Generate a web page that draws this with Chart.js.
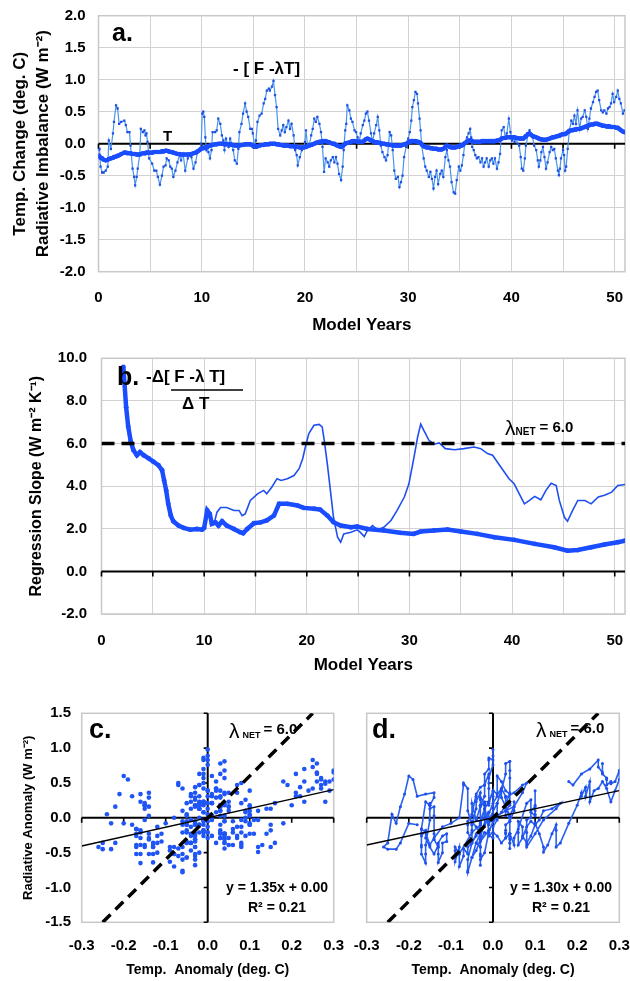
<!DOCTYPE html>
<html><head><meta charset="utf-8">
<script src="https://cdn.jsdelivr.net/npm/chart.js@4.4.1/dist/chart.umd.min.js"></script>
<style>
html,body{margin:0;padding:0;background:#fff;}
body{width:630px;height:981px;position:relative;overflow:hidden;}
canvas{position:absolute;}
</style></head><body>
<canvas id="ca" style="left:0;top:-10px" width="650" height="355"></canvas>
<canvas id="cb" style="left:0;top:330px" width="650" height="350"></canvas>
<canvas id="cc" style="left:0;top:690px" width="370" height="291"></canvas>
<canvas id="cd" style="left:330px;top:690px" width="320" height="291"></canvas>
<script>
// ---------- Panel a (and c, d): model years, radiative imbalance -[F - lambda T], temperature T ----------
const years = [
0,0.1,0.2,0.35,0.5,0.7,0.9,1.0,1.2,1.4,1.5,1.7,1.85,2.0,2.2,2.5,2.65,2.8,3.0,3.1,3.3,3.45,3.55,3.7,3.8,4.0,4.1,4.3,4.45,4.55,4.65,4.75,4.9,
5.2,5.4,5.6,5.75,5.95,6.15,6.3,6.5,6.6,6.8,6.95,7.1,7.25,7.45,7.65,7.85,8.0,8.2,8.4,8.65,8.8,9.0,9.2,9.4,9.6,9.8,9.95,
10.05,10.15,10.25,10.35,10.45,10.55,10.65,10.8,10.95,11.05,11.3,11.45,11.6,11.8,11.95,12.1,12.2,12.35,12.6,12.75,12.9,13.05,13.2,13.4,13.55,13.65,13.85,14.0,14.2,14.35,14.5,14.7,14.85,14.95,
15.1,15.25,15.4,15.6,15.8,16.0,16.15,16.3,16.5,16.6,16.8,16.95,17.1,17.25,17.4,17.6,17.75,17.9,18.05,18.2,18.4,18.55,18.7,18.9,19.05,19.2,19.3,19.5,19.7,19.9,
20.0,20.1,20.25,20.4,20.6,20.75,20.9,21.05,21.2,21.4,21.55,21.7,21.85,22.0,22.2,22.35,22.5,22.7,22.85,23.0,23.15,23.3,23.5,23.65,23.75,23.9,24.0,24.1,24.3,24.45,24.6,24.8,24.95,
25.1,25.25,25.4,25.6,25.75,25.9,26.05,26.2,26.4,26.55,26.7,26.9,27.05,27.2,27.35,27.5,27.7,27.85,28.0,28.2,28.35,28.5,28.65,28.8,29.0,29.15,29.3,29.45,29.6,29.8,
30.0,30.15,30.3,30.4,30.55,30.7,30.85,30.95,31.1,31.2,31.3,31.5,31.65,31.8,32.0,32.15,32.3,32.45,32.6,32.75,32.9,33.1,33.25,33.4,33.6,33.75,33.9,34.05,34.2,34.4,34.55,34.7,34.9,
35.05,35.2,35.35,35.5,35.7,35.85,36.0,36.1,36.2,36.35,36.5,36.65,36.8,37.0,37.15,37.3,37.45,37.6,37.8,37.95,38.1,38.25,38.4,38.6,38.75,38.9,39.05,39.25,39.4,39.55,39.75,39.9,
40.05,40.2,40.3,40.45,40.6,40.75,40.9,41.0,41.15,41.3,41.4,41.6,41.75,41.9,42.05,42.2,42.4,42.55,42.65,42.8,42.9,43.05,43.2,43.35,43.5,43.7,43.85,44.0,44.15,44.3,44.5,44.6,44.7,44.8,
45.0,45.1,45.2,45.3,45.45,45.6,45.8,45.95,46.1,46.25,46.4,46.6,46.75,46.9,47.1,47.25,47.4,47.55,47.7,47.9,48.05,48.2,48.35,48.5,48.7,48.85,49.0,49.2,49.35,49.5,49.65,49.8,49.95,50.15,50.3,50.45,50.6,50.8,50.95
];
const radImbalance = [
-0.1,-0.08,-0.36,-0.45,-0.45,-0.42,-0.36,0.05,-0.08,0.16,0.34,0.6,0.55,0.31,0.34,0.36,0.29,0.18,0.18,-0.03,-0.39,-0.52,-0.65,-0.52,-0.39,-0.16,0.23,0.18,0.21,0.13,0.16,0.03,-0.23,
-0.31,-0.42,-0.42,-0.52,-0.64,-0.5,-0.36,-0.34,-0.23,-0.26,-0.36,-0.39,-0.52,-0.42,-0.29,-0.18,-0.26,-0.16,-0.42,-0.23,-0.16,-0.21,-0.39,-0.29,-0.13,-0.08,0.0,
0.47,0.5,0.42,0.1,-0.1,-0.05,-0.13,-0.23,-0.1,0.18,0.18,0.21,0.39,0.31,0.13,0.05,-0.1,0.08,-0.05,0.08,0,-0.1,-0.26,-0.31,-0.08,0.18,0.31,0.47,0.63,0.5,0.42,0.23,0.23,0.16,
-0.03,0.05,0.34,0.44,0.47,0.63,0.7,0.83,0.86,0.83,0.89,0.98,0.76,0.57,0.23,0.13,0.21,0.29,0.18,0.26,0.36,0.23,0.31,0.13,-0.1,-0.18,-0.34,-0.21,-0.1,-0.05,
0.03,0.21,-0.03,-0.05,0.13,0.23,0.39,0.34,0.42,0.31,0.18,-0.05,-0.44,-0.23,-0.29,-0.36,-0.26,-0.21,-0.29,-0.21,-0.31,-0.47,-0.57,-0.36,-0.1,0.21,0.31,0.6,0.52,0.39,0.34,0.21,0.18,
0.1,0.03,0.16,0.29,0.36,0.47,0.5,0.36,0.16,0.03,0.16,0.29,0.42,0.21,-0.03,-0.13,-0.21,-0.26,-0.18,0.18,0.13,-0.1,-0.42,-0.55,-0.52,-0.68,-0.6,-0.5,-0.21,-0.05,
0.08,0.18,0.36,0.57,0.68,0.81,0.78,0.63,0.39,0.21,-0.03,-0.23,-0.36,-0.42,-0.52,-0.44,-0.55,-0.7,-0.52,-0.42,-0.63,-0.47,-0.42,-0.52,-0.21,-0.1,-0.26,-0.36,-0.6,-0.76,-0.78,-0.57,-0.36,
-0.42,-0.34,-0.18,0.03,0.1,0.16,0.23,0.1,-0.05,-0.1,-0.18,-0.23,-0.21,-0.29,-0.23,-0.36,-0.29,-0.23,-0.36,-0.26,-0.23,-0.31,-0.23,-0.39,-0.29,-0.16,0.21,0.26,0.1,0.16,0.39,0.18,
0.05,0.1,0.03,0.08,0,-0.03,-0.21,-0.39,-0.42,-0.23,-0.03,0.13,0.21,0.13,0.1,-0.03,-0.1,-0.26,-0.36,-0.26,-0.13,-0.05,-0.21,-0.39,-0.29,-0.13,-0.05,-0.1,-0.08,-0.23,-0.42,-0.49,-0.39,-0.23,
-0.1,-0.18,-0.42,-0.36,-0.08,0.18,0.36,0.31,0.44,0.31,0.52,0.23,0.39,0.42,0.52,0.42,0.23,0.39,0.55,0.65,0.73,0.81,0.83,0.68,0.52,0.49,0.52,0.47,0.55,0.57,0.63,0.78,0.65,0.73,0.83,0.7,0.63,0.47,0.52
];
const tempChange = [
-0.18,-0.2,-0.22,-0.23,-0.25,-0.26,-0.25,-0.24,-0.23,-0.22,-0.21,-0.2,-0.19,-0.18,-0.16,-0.14,-0.14,-0.15,-0.15,-0.15,-0.16,-0.16,-0.16,-0.17,-0.17,-0.17,-0.16,-0.15,-0.15,-0.15,-0.14,-0.14,-0.14,
-0.14,-0.13,-0.13,-0.13,-0.13,-0.12,-0.12,-0.11,-0.11,-0.12,-0.13,-0.13,-0.14,-0.15,-0.16,-0.16,-0.17,-0.17,-0.17,-0.17,-0.17,-0.16,-0.15,-0.14,-0.12,-0.1,-0.08,
-0.07,-0.07,-0.06,-0.06,-0.05,-0.05,-0.04,-0.03,-0.02,-0.02,-0.01,-0.01,0,0,0,0,-0.01,-0.01,-0.01,-0.01,-0.02,-0.02,-0.03,-0.03,-0.03,-0.03,-0.02,-0.02,-0.01,-0.01,-0.01,-0.01,-0.02,-0.03,
-0.04,-0.05,-0.04,-0.03,-0.02,-0.02,-0.01,-0.01,-0.01,0,0,0,0,-0.01,-0.01,-0.02,-0.02,-0.03,-0.03,-0.03,-0.03,-0.04,-0.04,-0.04,-0.05,-0.05,-0.05,-0.06,-0.06,-0.06,
-0.05,-0.05,-0.04,-0.03,-0.02,-0.01,0,0.01,0.02,0.03,0.03,0.04,0.04,0.04,0.03,0.02,0.01,0,0,-0.02,-0.03,-0.04,-0.05,-0.04,-0.02,0,0.01,0.01,0.02,0.03,0.04,0.04,0.04,
0.03,0.03,0.03,0.03,0.05,0.07,0.08,0.07,0.05,0.04,0.03,0.02,0.02,0.01,0.01,0,0,-0.01,-0.01,-0.02,-0.02,-0.03,-0.03,-0.03,-0.03,-0.03,-0.03,-0.02,-0.01,0,
0.02,0.03,0.04,0.04,0.04,0.04,0.03,0.03,0.02,0.01,-0.01,-0.04,-0.05,-0.06,-0.06,-0.07,-0.07,-0.08,-0.08,-0.08,-0.09,-0.09,-0.09,-0.08,-0.05,-0.03,-0.04,-0.05,-0.06,-0.06,-0.06,-0.05,-0.04,
-0.03,-0.03,-0.01,0.01,0.03,0.05,0.05,0.05,0.04,0.03,0.03,0.03,0.03,0.03,0.04,0.04,0.04,0.04,0.04,0.04,0.04,0.04,0.04,0.05,0.05,0.06,0.08,0.09,0.09,0.1,0.1,0.1,
0.1,0.1,0.1,0.09,0.09,0.08,0.08,0.08,0.08,0.1,0.12,0.15,0.16,0.14,0.12,0.11,0.1,0.09,0.08,0.07,0.07,0.06,0.06,0.06,0.07,0.08,0.09,0.1,0.1,0.11,0.12,0.12,0.13,0.14,
0.15,0.15,0.15,0.16,0.18,0.2,0.21,0.21,0.22,0.22,0.23,0.23,0.24,0.25,0.26,0.27,0.28,0.29,0.3,0.3,0.31,0.31,0.31,0.3,0.29,0.28,0.28,0.27,0.27,0.27,0.26,0.26,0.26,0.25,0.25,0.23,0.21,0.19,0.18
];

// ---------- Panel b: regression slopes ----------
const slopeYearsThick = [2.13,2.4,2.6,2.85,3.1,3.45,3.75,4.1,4.6,5.05,5.55,5.9,6.1,6.3,6.5,6.75,7.0,7.5,8.0,8.65,9.3,9.8,10.0,10.3,10.55,10.75,11.1,11.4,11.75,12.2,12.9,13.5,13.8,14.2,14.85,15.5,16.1,16.8,17.3,18.1,19.1,19.7,20.7,21.3,22.0,22.6,23.3,24.3,24.9,25.9,27.5,29.1,30.4,31.1,32.4,33.7,35.0,36.6,38.3,40.2,42.2,44.1,45.4,46.4,47.7,49.0,50.3,51.0];
const slopeThick = [9.6,7.7,6.8,6.1,5.7,5.45,5.6,5.45,5.3,5.15,4.98,4.75,4.27,3.8,3.17,2.62,2.35,2.15,2.04,1.96,1.99,1.96,2.04,2.86,2.7,2.23,2.3,2.15,2.35,2.15,1.99,1.84,1.79,1.99,2.26,2.3,2.39,2.62,3.17,3.17,3.09,2.98,2.94,2.9,2.62,2.31,2.15,2.07,2.1,1.99,1.92,1.81,1.76,1.87,1.92,1.96,1.87,1.76,1.6,1.48,1.29,1.13,0.97,1.0,1.13,1.26,1.37,1.44];
const slopeYearsThin = [11.0,11.25,11.6,12.2,12.9,13.4,13.7,14.0,14.5,15.2,15.8,16.1,16.6,17.1,17.5,18.1,18.75,19.25,19.6,19.9,20.2,20.7,21.2,21.5,21.7,22.0,22.3,22.6,23.0,23.3,23.6,24.3,24.9,25.2,25.6,25.9,26.4,26.9,27.5,28.2,28.8,29.5,29.95,30.45,30.8,31.1,31.4,31.9,32.4,32.9,33.5,34.4,35.3,36.3,36.95,37.6,38.1,38.9,39.7,40.2,40.7,41.2,41.7,42.2,42.8,43.3,43.8,44.3,44.6,45.1,45.4,45.9,46.4,47.1,47.7,48.4,49.0,49.7,50.3,51.0];
const slopeThin = [2.3,2.78,3.0,3.0,2.86,2.86,2.62,2.7,3.33,3.64,3.8,3.64,3.96,4.35,4.27,4.35,4.5,4.82,5.29,5.92,6.47,6.86,6.9,6.78,6.15,5.05,3.8,2.54,1.6,1.37,1.76,1.84,1.95,1.84,1.63,1.92,2.15,1.95,2.07,2.39,2.86,3.49,4.11,5.37,6.31,6.91,6.62,6.15,5.97,6.03,5.76,5.71,5.76,5.84,5.76,5.53,5.45,4.9,4.35,4.11,3.64,3.17,3.33,3.52,3.36,3.8,4.14,4.03,3.33,2.54,2.35,2.86,3.33,3.33,3.17,3.49,3.57,3.72,4.03,4.08];

// ---------- constants / tick labels ----------
const lambdaNet = 6.0;
const fitSlopeC = 1.35, fitSlopeD = 1.30, fitIntercept = 0.00, fitR2 = 0.21;
const yearGridTicks = [0,5,10,15,20,25,30,35,40,45,50];
const yTicksA = [-2,-1.5,-1,-0.5,0,0.5,1,1.5,2];
const yTicksB = [-2,0,2,4,6,8,10];
const anomXTicks = [-0.3,-0.2,-0.1,0,0.1,0.2,0.3];
const anomYTicks = [-1.5,-1,-0.5,0,0.5,1,1.5];

const FONT = "'Liberation Sans', Arial, Helvetica, sans-serif";
Chart.defaults.font.family = FONT;
Chart.defaults.color = '#000';

const fmt1 = v => (Math.abs(v) < 1e-9 ? '0.0' : Number(v).toFixed(1));
const setTicks = arr => (s => { s.ticks = arr.map(v => ({value: v})); });

// frame + zero axis plugin
const frameZero = {
  id: 'frameZero',
  beforeDatasetsDraw(chart, args, o) {
    const {ctx, chartArea: a, scales: {x, y}} = chart;
    ctx.save();
    ctx.strokeStyle = '#c8c8c8'; ctx.lineWidth = 1.5;
    ctx.strokeRect(a.left, a.top, a.right - a.left, a.bottom - a.top);
    const y0 = y.getPixelForValue(0);
    ctx.strokeStyle = '#000'; ctx.lineWidth = o.lw || 2;
    ctx.beginPath(); ctx.moveTo(a.left, y0); ctx.lineTo(a.right, y0); ctx.stroke();
    ctx.lineWidth = 1.6;
    ctx.beginPath();
    (o.xTicks || []).forEach(v => { const px = x.getPixelForValue(v); ctx.moveTo(px, y0); ctx.lineTo(px, y0 + (o.tickLen || 5)); });
    ctx.stroke();
    if (o.vertical) {
      const x0 = x.getPixelForValue(0);
      ctx.lineWidth = o.lw || 2;
      ctx.beginPath(); ctx.moveTo(x0, a.top); ctx.lineTo(x0, a.bottom); ctx.stroke();
      ctx.lineWidth = 1.6;
      ctx.beginPath();
      (o.yTicks || []).forEach(v => { const py = y.getPixelForValue(v); ctx.moveTo(x0, py); ctx.lineTo(x0 - 4, py); });
      ctx.stroke();
    }
    ctx.restore();
  }
};

// text annotations plugin
const notes = {
  id: 'notes',
  afterDraw(chart, args, o) {
    const ctx = chart.ctx;
    ctx.save();
    ctx.fillStyle = '#000'; ctx.strokeStyle = '#000';
    (o.items || []).forEach(it => {
      if (it.line) {
        ctx.lineWidth = it.w || 1.5;
        ctx.beginPath(); ctx.moveTo(it.line[0], it.line[1]); ctx.lineTo(it.line[2], it.line[3]); ctx.stroke();
        return;
      }
      if (it.parts) {
        let x = it.x;
        it.parts.forEach(p => {
          ctx.font = p.f + ' ' + FONT;
          ctx.textAlign = 'left'; ctx.textBaseline = 'alphabetic';
          ctx.fillText(p.t, x, it.y + (p.dy || 0));
          x += ctx.measureText(p.t).width + (p.gap || 0);
        });
        return;
      }
      ctx.font = it.f + ' ' + FONT;
      ctx.textAlign = it.a || 'left';
      ctx.textBaseline = 'middle';
      ctx.fillText(it.t, it.x, it.y);
    });
    ctx.restore();
  }
};

const baseOpts = {responsive: false, animation: false, devicePixelRatio: 1, events: []};
const gridGrey = '#d2d2d2';
const tickFont = {size: 15, weight: 'bold'};

// ---------- Chart a (canvas top = -10) ----------
new Chart(document.getElementById('ca'), {
  type: 'scatter',
  data: {datasets: [
    {data: years.map((yr, i) => ({x: yr, y: tempChange[i]})), showLine: true, borderColor: '#1a4dff', borderWidth: 4,
     pointRadius: 2.3, pointBackgroundColor: '#1a4dff', pointBorderWidth: 0},
    {data: years.map((yr, i) => ({x: yr, y: radImbalance[i]})), showLine: true, borderColor: '#4a93ee', borderWidth: 1.2,
     pointRadius: 1.6, pointStyle: 'rect', pointBackgroundColor: '#1d4fe0', pointBorderWidth: 0}
  ]},
  options: Object.assign({}, baseOpts, {
    layout: {padding: {top: 25.7, right: 25, left: 0, bottom: 0}},
    plugins: {legend: {display: false}, tooltip: {enabled: false},
      frameZero: {xTicks: yearGridTicks, tickLen: 5},
      notes: {items: [
        {t: 'a.', x: 112, y: 44, f: 'bold 25px'},
        {t: '- [ F -λT]', x: 233, y: 79, f: 'bold 17px'},
        {t: 'T', x: 163, y: 147, f: 'bold 15px'}
      ]}},
    scales: {
      x: {type: 'linear', min: 0, max: 51, afterBuildTicks: setTicks(yearGridTicks), afterFit: s => { s.height = 73.3; },
          grid: {color: gridGrey, lineWidth: 1, drawTicks: false}, border: {display: false},
          ticks: {padding: 17, autoSkip: false, maxRotation: 0, font: tickFont, callback: v => (v % 10 === 0 ? String(v) : '')},
          title: {display: true, text: 'Model Years', font: {size: 17, weight: 'bold'}, padding: {top: 0, bottom: 9.8}}},
      y: {min: -2, max: 2, afterBuildTicks: setTicks(yTicksA), afterFit: s => { s.width = 98.5; },
          grid: {color: gridGrey, lineWidth: 1, drawTicks: false}, border: {display: false},
          ticks: {padding: 13, font: tickFont, callback: v => fmt1(v)},
          title: {display: true, text: ['Temp. Change (deg. C)', 'Radiative Imbalance (W m⁻²)'],
                  font: {size: 17, weight: 'bold', lineHeight: 1.37}, padding: {top: 8.4, bottom: 0}}}
    }
  }),
  plugins: [frameZero, notes]
});

// ---------- Chart b (canvas top = 330) ----------
new Chart(document.getElementById('cb'), {
  type: 'scatter',
  data: {datasets: [
    {data: [{x: 0, y: lambdaNet}, {x: 51, y: lambdaNet}], showLine: true, borderColor: '#000', borderWidth: 3.5,
     borderDash: [13, 7], pointRadius: 0},
    {data: slopeYearsThick.map((yr, i) => ({x: yr, y: slopeThick[i]})), showLine: true, borderColor: '#1a4dff', borderWidth: 4.5,
     pointRadius: 2.4, pointBackgroundColor: '#1a4dff', pointBorderWidth: 0},
    {data: slopeYearsThin.map((yr, i) => ({x: yr, y: slopeThin[i]})), showLine: true, borderColor: '#1f4ff0', borderWidth: 1.6,
     pointRadius: 0}
  ]},
  options: Object.assign({}, baseOpts, {
    layout: {padding: {top: 28.3, right: 25, left: 0, bottom: 0}},
    plugins: {legend: {display: false}, tooltip: {enabled: false},
      frameZero: {xTicks: yearGridTicks, tickLen: 5},
      notes: {items: [
        {t: 'b.', x: 117, y: 48, f: 'bold 25px'},
        {t: '-Δ[ F -λ T]', x: 146, y: 47, f: 'bold 17px'},
        {line: [171, 60, 243, 60], w: 1.6},
        {t: 'Δ T', x: 182, y: 74, f: 'bold 17px'},
        {x: 505, y: 105, parts: [{t: 'λ', f: '21px'}, {t: 'NET', f: 'bold 10px', gap: 4}, {t: '= 6.0', f: 'bold 15px', dy: -3}]}
      ]}},
    scales: {
      x: {type: 'linear', min: 0, max: 51, afterBuildTicks: setTicks(yearGridTicks), afterFit: s => { s.height = 66; },
          grid: {color: gridGrey, lineWidth: 1, drawTicks: false}, border: {display: false},
          ticks: {padding: 18, autoSkip: false, maxRotation: 0, font: tickFont, callback: v => (v % 10 === 0 ? String(v) : '')},
          title: {display: true, text: 'Model Years', font: {size: 17, weight: 'bold'}, padding: {top: 0, bottom: 4.8}}},
      y: {min: -2, max: 10, afterBuildTicks: setTicks(yTicksB), afterFit: s => { s.width = 101.5; },
          grid: {color: gridGrey, lineWidth: 1, drawTicks: false}, border: {display: false},
          ticks: {padding: 14.5, font: tickFont, callback: v => fmt1(v)},
          title: {display: true, text: 'Regression Slope (W m⁻² K⁻¹)', font: {size: 16, weight: 'bold'}, padding: {top: 27.4, bottom: 0}}}
    }
  }),
  plugins: [frameZero, notes]
});

// ---------- Charts c and d ----------
function anomalyChart(id, slope, connected, leftW, padRight, withY, noteItems) {
  const regX = anomXTicks[0], regX2 = anomXTicks[anomXTicks.length - 1];
  const lamY = anomYTicks[anomYTicks.length - 1];
  const pts = years.map((yr, i) => ({x: tempChange[i], y: radImbalance[i]}));
  const ds = [
    {data: [{x: regX, y: slope * regX + fitIntercept}, {x: regX2, y: slope * regX2 + fitIntercept}], showLine: true,
     borderColor: '#000', borderWidth: 1.4, pointRadius: 0},
    {data: [{x: -lamY / lambdaNet, y: -lamY}, {x: lamY / lambdaNet, y: lamY}], showLine: true,
     borderColor: '#000', borderWidth: 3.5, borderDash: [11, 7], pointRadius: 0},
    connected
      ? {data: pts, showLine: true, borderColor: '#2a60f0', borderWidth: 1.6, pointRadius: 1.5, pointBackgroundColor: '#1f50ee', pointBorderWidth: 0}
      : {data: pts, showLine: false, pointRadius: 2.3, pointBackgroundColor: '#1f55f5', pointBorderWidth: 0}
  ];
  return new Chart(document.getElementById(id), {
    type: 'scatter',
    data: {datasets: ds},
    options: Object.assign({}, baseOpts, {
      layout: {padding: {top: 23.3, right: padRight, left: 0, bottom: 0}},
      plugins: {legend: {display: false}, tooltip: {enabled: false},
        frameZero: {xTicks: anomXTicks, yTicks: anomYTicks, tickLen: 5, vertical: true},
        notes: {items: noteItems}},
      scales: {
        x: {type: 'linear', min: -0.3, max: 0.3, afterBuildTicks: setTicks(anomXTicks), afterFit: s => { s.height = 58.7; },
            grid: {display: false, drawTicks: false}, border: {display: false},
            ticks: {padding: 15, autoSkip: false, maxRotation: 0, font: tickFont, callback: v => fmt1(v)},
            title: {display: true, text: 'Temp.  Anomaly (deg. C)', font: {size: 14, weight: 'bold'}, padding: {top: 0, bottom: 2.6}}},
        y: {min: -1.5, max: 1.5, afterBuildTicks: setTicks(anomYTicks), afterFit: s => { s.width = leftW; },
            grid: {display: false, drawTicks: false}, border: {display: false},
            ticks: {display: withY, padding: 10.7, font: tickFont, callback: v => fmt1(v)},
            title: {display: withY, text: 'Radiative Anomaly (W m⁻²)', font: {size: 13, weight: 'bold'}, padding: {top: 20.2, bottom: 0}}}
      }
    }),
    plugins: [frameZero, notes]
  });
}

// c: canvas left 0 (plot 81.7..333.7)
anomalyChart('cc', fitSlopeC, false, 81.7, 36.3, true, [
  {t: 'c.', x: 89, y: 41, f: 'bold 27px'},
  {x: 229, y: 48, parts: [{t: 'λ', f: '21px', gap: 3}, {t: 'NET', f: 'bold 9px', gap: 3}, {t: '= 6.0', f: 'bold 15px', dy: -4}]},
  {t: 'y = ' + fitSlopeC.toFixed(2) + 'x + ' + fitIntercept.toFixed(2), x: 277, y: 198, f: 'bold 14px', a: 'center'},
  {t: 'R² = ' + fitR2.toFixed(2), x: 277, y: 218, f: 'bold 14px', a: 'center'}
]);
// d: canvas left 330 (plot 366.7..619.3)
anomalyChart('cd', fitSlopeD, true, 36.7, 30.7, false, [
  {t: 'd.', x: 42, y: 41, f: 'bold 27px'},
  {x: 206, y: 47, parts: [{t: 'λ', f: '21px', gap: 3}, {t: 'NET', f: 'bold 9px', gap: 3}, {t: '= 6.0', f: 'bold 15px', dy: -4}]},
  {t: 'y = ' + fitSlopeD.toFixed(2) + 'x + ' + fitIntercept.toFixed(2), x: 231, y: 198, f: 'bold 14px', a: 'center'},
  {t: 'R² = ' + fitR2.toFixed(2), x: 231, y: 218, f: 'bold 14px', a: 'center'}
]);
</script>
</body></html>
